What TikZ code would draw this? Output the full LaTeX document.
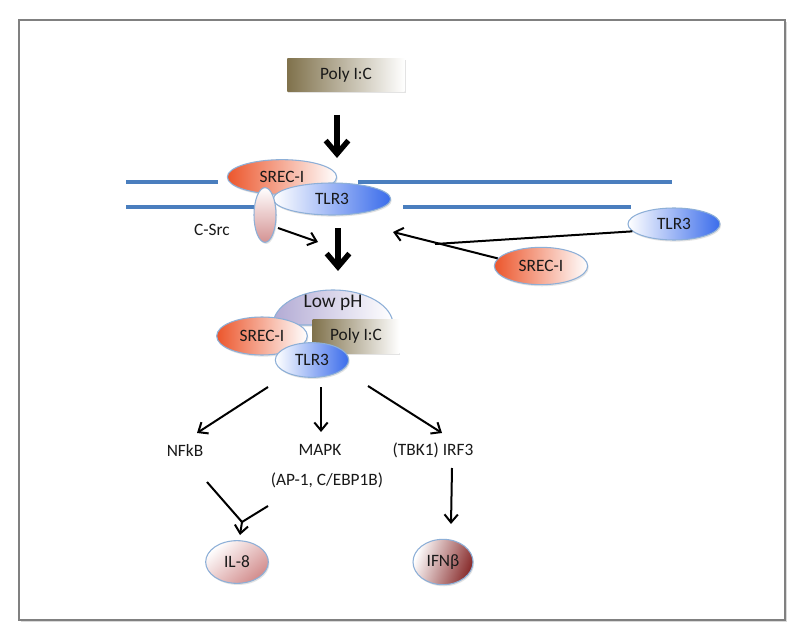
\documentclass[tikz,border=0pt]{standalone}
\usepackage{fontspec}
\setmainfont{Carlito}
\usetikzlibrary{shapes.geometric,arrows.meta,shadows}

\definecolor{membraneblue}{RGB}{74,126,190}
\definecolor{rimblue}{RGB}{141,175,215}
\definecolor{framegray}{RGB}{128,128,128}
\definecolor{srecorange}{RGB}{236,86,44}
\definecolor{tlrblue}{RGB}{58,108,235}
\definecolor{polyolive}{RGB}{128,114,76}
\definecolor{csrcpink}{RGB}{212,146,146}
\definecolor{ilpink}{RGB}{210,140,140}
\definecolor{ifnred}{RGB}{136,44,44}
\definecolor{lowphlilac}{RGB}{178,170,212}

\tikzset{
  every node/.style={font=\fontsize{13}{15}\selectfont, text=black!90},
  softshadow/.style={drop shadow={opacity=0.22, shadow xshift=0.8pt, shadow yshift=-1.2pt}},
  prot/.style={ellipse, draw=rimblue, line width=0.8pt, inner sep=0pt, softshadow},
  srec/.style={prot, left color=srecorange, right color=white},
  tlr/.style={prot, left color=white, right color=tlrblue},
  polybox/.style={rectangle, inner sep=0pt, left color=polyolive, right color=white, softshadow},
  membrane/.style={membraneblue, line width=2.3pt},
  bigarrow/.style={line width=4pt, -{Straight Barb[length=10pt,width=17pt]}},
  sigarrow/.style={line width=1.5pt, -{Straight Barb[length=6pt,width=10pt]}},
  sigline/.style={line width=1.5pt}
}

\begin{document}
\begin{tikzpicture}[x=0.75pt,y=0.75pt,yscale=-1,xscale=1]
\useasboundingbox (0,0) rectangle (800,642);

%Shape: Frame
\draw [framegray, line width=1.1pt, fill=white, drop shadow={opacity=0.3, shadow xshift=1.5pt, shadow yshift=-1.5pt}] (19,20) rectangle (785,620);

%Shape: Rectangle [Poly I:C outside]
\draw (346,75) node (polyA) [polybox, minimum width=88pt, minimum height=25pt] {Poly I:C};

%Straight Lines [uptake]
\coordinate (upA) at (337,115);
\coordinate (upB) at (337,158);
\draw [bigarrow] (upA) -- (upB);

%Straight Lines [membrane]
\draw [membrane] (126,182) -- (218,182);
\draw [membrane] (358,182) -- (672,182);
\draw [membrane] (126,207) -- (254,207);
\draw [membrane] (403,207) -- (631,207);

%Shape: Ellipse [membrane complex]
\draw (282,177) node (srecA) [srec, minimum width=82pt, minimum height=26pt] {SREC-I};
\draw (332,199) node (tlrA) [tlr, minimum width=88pt, minimum height=24pt] {TLR3};
\draw (265,215) node (csrc) [prot, top color=white, bottom color=csrcpink, minimum width=16.5pt, minimum height=41pt] {};

% Text Node
\draw (212,230) node (csrclab) {C-Src};

%Straight Lines [C-Src and internalisation]
\coordinate (srcA) at (278,228);
\coordinate (srcB) at (318,242);
\draw [sigarrow] (srcA) -- (srcB);
\coordinate (inA) at (338,228);
\coordinate (inB) at (338,271);
\draw [bigarrow] (inA) -- (inB);

%Shape: Ellipse [free receptors]
\draw (674,224) node (tlrB) [tlr, minimum width=69pt, minimum height=24pt] {TLR3};
\draw (541,266) node (srecB) [srec, minimum width=70pt, minimum height=28pt] {SREC-I};

%Straight Lines [recruitment]
\coordinate (tipR) at (393,232);
\coordinate (joinR) at (435,244);
\draw [sigarrow] (srecB.170) -- (tipR);
\draw [sigline] (tlrB.190) -- (joinR);

%Shape: Half Ellipse [endosome]
\draw [rimblue, line width=0.8pt, left color=lowphlilac, right color=white, softshadow] (273,325) arc [start angle=180, end angle=360, x radius=60, y radius=35] -- cycle;
\draw (333,303) node (lowph) {\fontsize{14.5}{16}\selectfont Low pH};

%Shape: Endosome complex
\draw (356,336) node (polyB) [polybox, minimum width=65pt, minimum height=25.5pt] {\raisebox{-3pt}{Poly I:C}};
\draw (262,336) node (srecC) [srec, minimum width=68pt, minimum height=28.5pt] {SREC-I};
\draw (312,360) node (tlrC) [tlr, minimum width=55pt, minimum height=26pt] {TLR3};

%Straight Lines [signalling]
\coordinate (nfA) at (268,387);
\coordinate (nfB) at (197,433);
\coordinate (mkA) at (321,387);
\coordinate (mkB) at (321,432);
\coordinate (irA) at (368,386);
\coordinate (irB) at (442,433);
\draw [sigarrow] (nfA) -- (nfB);
\draw [sigarrow] (mkA) -- (mkB);
\draw [sigarrow] (irA) -- (irB);

% Text Node
\draw (185,450) node (nfkb) {NFkB};
% Text Node
\draw (320,450) node (mapk) {MAPK};
% Text Node
\draw (433,450) node (irf3) {(TBK1) IRF3};
% Text Node
\draw (327,480) node (ap1) {(AP-1, C/EBP1B)};

%Straight Lines [to IL-8]
\coordinate (ilA) at (207,482);
\coordinate (ilB) at (268,506);
\coordinate (ilJ) at (242,522);
\coordinate (ilT) at (240,535);
\draw [sigline] (ilA) -- (ilJ);
\draw [sigline] (ilB) -- (ilJ);
\draw [sigarrow] (ilJ) -- (ilT);

%Straight Lines [to IFN]
\coordinate (ifA) at (452,468);
\coordinate (ifB) at (451,524);
\draw [sigarrow] (ifA) -- (ifB);

%Shape: Ellipse [products]
\draw (237,562) node (il8) [prot, top color=white, bottom color=ilpink, shading angle=40, minimum width=47pt, minimum height=32pt] {IL-8};
\draw (443,562) node (ifnb) [prot, left color=white, right color=ifnred, shading angle=70, minimum width=45pt, minimum height=34pt] {IFNβ};

\end{tikzpicture}
\end{document}
